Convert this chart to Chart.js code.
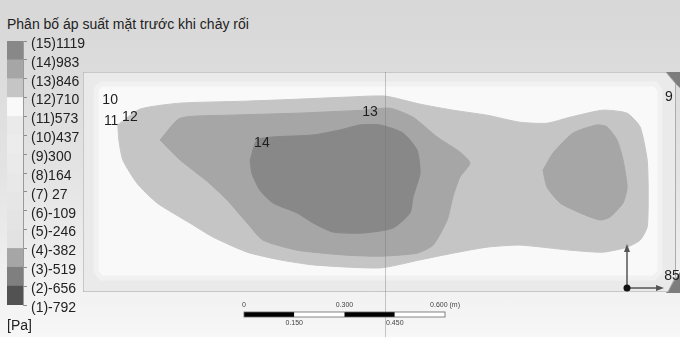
<!DOCTYPE html>
<html>
<head>
<meta charset="utf-8">
<script src="https://cdn.jsdelivr.net/npm/chart.js@4.4.1/dist/chart.umd.min.js"></script>
<style>
  html, body { margin: 0; padding: 0; }
  body {
    width: 680px; height: 337px; overflow: hidden; position: relative;
    background: linear-gradient(to bottom, #d7d7d7 0%, #e3e3e3 50%, #f7f7f7 100%);
    font-family: "Liberation Sans", Arial, sans-serif;
  }
  #title { position: absolute; left: 7px; top: 16px; font-size: 14px; color: #222; white-space: nowrap; }
  #unit  { position: absolute; left: 7px; top: 317px; font-size: 14px; color: #222; }
  #field, #bar { position: absolute; left: 0; top: 0; }
</style>
</head>
<body>
<div id="title">Phân bố áp suất mặt trước khi chảy rối</div>
<canvas id="field" width="680" height="337"></canvas>
<canvas id="bar" width="110" height="337"></canvas>
<div id="unit">[Pa]</div>

<script>
// Pressure levels of the contour legend (Pa), level 1 .. level 15
const levelValues = [-792, -656, -519, -382, -246, -109, 27, 164, 300, 437, 573, 710, 846, 983, 1119];
// Grey shade of each band between consecutive levels (band n lies between level n and n+1)
const bandColors = ['#525252', '#7f7f7f', '#a6a6a6', '#e2e2e2', '#e4e4e4', '#e6e6e6', '#e8e8e8',
                    '#eaeaea', '#ececec', '#eaeaea', '#f9f9f9', '#c5c5c5', '#a6a6a6', '#888888'];
const tickLabels = levelValues.map((v, i) => `(${i + 1})${String(v).padStart(3, ' ')}`);

// Plate size (m)
const plateLength = 1.770;
const plateHeight = 0.657;

// Contour zones, [x, y] in metres from the lower-left corner of the plate
const plateOutline = [[0, 0], [0, 0.657], [1.740, 0.657], [1.770, 0.621], [1.770, 0.048], [1.746, 0]];
const level11Zone = [[0.051, 0.621], [1.707, 0.621], [1.722, 0.603], [1.722, 0.060], [1.704, 0.042],
                     [0.054, 0.042], [0.039, 0.060], [0.039, 0.603]];
const level12Zone = [[0.104, 0.499], [0.170, 0.546], [0.290, 0.564], [0.490, 0.570], [0.648, 0.576],
                     [0.788, 0.582], [0.901, 0.585], [1.006, 0.561], [1.104, 0.543], [1.206, 0.528],
                     [1.304, 0.507], [1.385, 0.504], [1.454, 0.522], [1.552, 0.543], [1.624, 0.534],
                     [1.663, 0.493], [1.684, 0.394], [1.687, 0.296], [1.684, 0.194], [1.663, 0.155],
                     [1.624, 0.134], [1.552, 0.119], [1.454, 0.125], [1.304, 0.140], [1.206, 0.134],
                     [1.104, 0.116], [1.006, 0.096], [0.887, 0.072], [0.687, 0.081], [0.588, 0.096],
                     [0.490, 0.119], [0.388, 0.164], [0.319, 0.206], [0.221, 0.266], [0.161, 0.325],
                     [0.119, 0.394], [0.107, 0.454]];
const level13Zone = [[0.230, 0.454], [0.290, 0.519], [0.439, 0.528], [0.639, 0.534], [0.836, 0.543],
                     [0.916, 0.549], [0.985, 0.522], [1.057, 0.463], [1.125, 0.418], [1.155, 0.385],
                     [1.125, 0.343], [1.104, 0.284], [1.087, 0.215], [1.045, 0.140], [0.997, 0.116],
                     [0.887, 0.107], [0.788, 0.110], [0.639, 0.125], [0.537, 0.155], [0.490, 0.206],
                     [0.430, 0.275], [0.370, 0.331], [0.290, 0.394]];
const level13ZoneEast = [[1.373, 0.364], [1.403, 0.415], [1.463, 0.475], [1.534, 0.499], [1.564, 0.493],
                         [1.594, 0.454], [1.612, 0.394], [1.624, 0.313], [1.612, 0.266], [1.573, 0.224],
                         [1.543, 0.215], [1.484, 0.236], [1.424, 0.266], [1.385, 0.313]];
const level14Zone = [[0.499, 0.394], [0.519, 0.454], [0.567, 0.463], [0.687, 0.469], [0.767, 0.484],
                     [0.827, 0.499], [0.887, 0.499], [0.955, 0.475], [0.997, 0.424], [1.006, 0.355],
                     [0.985, 0.284], [0.976, 0.236], [0.925, 0.191], [0.836, 0.176], [0.746, 0.179],
                     [0.687, 0.206], [0.639, 0.236], [0.567, 0.266], [0.528, 0.304], [0.504, 0.355]];

// Contour line labels (level number) and their positions (m)
const contourLabelText = ['10', '11', '12', '13', '14', '9', '85'];
const contourLabelX = [0.081, 0.084, 0.140, 0.857, 0.534, 1.749, 1.758];
const contourLabelY = [0.573, 0.510, 0.522, 0.537, 0.445, 0.582, 0.047];

// Length scale bar ticks (m)
const scaleBarTicks = [0, 0.150, 0.300, 0.450, 0.600];
const scaleBarLabels = ['0', '0.150', '0.300', '0.450', '0.600 (m)'];
// Vertical reference line position (m)
const referenceLineX = 0.900;

const FONT = '"Liberation Sans", Arial, sans-serif';

function zone(pairs, fillColor, lineColor, lineWidth, tension, order) {
  const pts = pairs.map(([x, y]) => ({ x, y }));
  pts.push({ x: pairs[0][0], y: pairs[0][1] });
  return {
    data: pts, showLine: true, fill: 'shape', tension, order,
    backgroundColor: fillColor, borderColor: lineColor, borderWidth: lineWidth,
    pointRadius: 0, pointHoverRadius: 0
  };
}

// Darker corner pieces of the neighbouring walls at the right end of the plate
const cornerPieces = {
  id: 'cornerPieces',
  beforeDatasetsDraw(chart) {
    const { ctx, chartArea: a, width } = chart;
    ctx.save();
    ctx.fillStyle = '#7d7d7d';
    ctx.beginPath();
    ctx.moveTo(a.right - 12, a.top);
    ctx.lineTo(width, a.top);
    ctx.lineTo(width, a.top + 16);
    ctx.closePath();
    ctx.fill();
    ctx.beginPath();
    ctx.moveTo(a.right - 10, a.bottom + 1);
    ctx.lineTo(width, a.bottom + 1);
    ctx.lineTo(width, a.bottom - 20);
    ctx.closePath();
    ctx.fill();
    ctx.restore();
  }
};

// Labels, reference line, axis triad and length scale
const overlay = {
  id: 'overlay',
  afterDatasetsDraw(chart) {
    const { ctx, chartArea: a, scales: { x, y }, height } = chart;
    ctx.save();

    const lx = Math.round(x.getPixelForValue(referenceLineX)) + 0.5;
    ctx.strokeStyle = 'rgba(120,120,120,0.4)';
    ctx.lineWidth = 1;
    ctx.beginPath();
    ctx.moveTo(lx, a.top);
    ctx.lineTo(lx, height);
    ctx.stroke();

    ctx.fillStyle = '#1e1e1e';
    ctx.font = `14px ${FONT}`;
    ctx.textAlign = 'center';
    ctx.textBaseline = 'middle';
    contourLabelText.forEach((t, i) => {
      ctx.fillText(t, x.getPixelForValue(contourLabelX[i]), y.getPixelForValue(contourLabelY[i]));
    });

    // axis triad
    const ox = a.right - 49, oy = a.bottom - 4;
    ctx.strokeStyle = '#555';
    ctx.fillStyle = '#555';
    ctx.lineWidth = 1.5;
    ctx.beginPath();
    ctx.moveTo(ox, oy); ctx.lineTo(ox, oy - 40);
    ctx.moveTo(ox, oy); ctx.lineTo(ox + 33, oy);
    ctx.stroke();
    ctx.beginPath();
    ctx.moveTo(ox, oy - 44); ctx.lineTo(ox - 3, oy - 36); ctx.lineTo(ox + 3, oy - 36); ctx.closePath();
    ctx.moveTo(ox + 37, oy); ctx.lineTo(ox + 29, oy - 3); ctx.lineTo(ox + 29, oy + 3); ctx.closePath();
    ctx.fill();
    ctx.fillStyle = '#111';
    ctx.beginPath();
    ctx.arc(ox, oy, 3.5, 0, Math.PI * 2);
    ctx.fill();

    // length scale
    const x0 = a.left + 161;
    const p = v => x0 + (x.getPixelForValue(v) - x.getPixelForValue(0));
    const top = a.bottom + 20, h = 5;
    for (let i = 0; i < scaleBarTicks.length - 1; i++) {
      const xa = p(scaleBarTicks[i]), xb = p(scaleBarTicks[i + 1]);
      ctx.fillStyle = i % 2 === 0 ? '#000' : '#fff';
      ctx.fillRect(xa, top, xb - xa, h);
    }
    ctx.strokeStyle = '#666';
    ctx.lineWidth = 0.8;
    ctx.strokeRect(p(0), top, p(scaleBarTicks[scaleBarTicks.length - 1]) - p(0), h);
    ctx.fillStyle = '#444';
    ctx.font = `7px ${FONT}`;
    scaleBarTicks.forEach((v, i) => {
      ctx.fillText(scaleBarLabels[i], p(v), i % 2 === 0 ? top - 7 : top + 11);
    });
    ctx.restore();
  }
};

new Chart(document.getElementById('field'), {
  type: 'scatter',
  data: {
    datasets: [
      zone(plateOutline, bandColors[9], '#a4a4a4', 1, 0, 6),
      zone(level11Zone, bandColors[10], '#f1f1f1', 5, 0, 5),
      zone(level12Zone, bandColors[11], bandColors[11], 1, 0.2, 4),
      zone(level13Zone, bandColors[12], bandColors[12], 1, 0.2, 3),
      zone(level13ZoneEast, bandColors[12], bandColors[12], 1, 0.2, 3),
      zone(level14Zone, bandColors[13], bandColors[13], 1, 0.2, 2)
    ]
  },
  options: {
    responsive: false, animation: false, events: [],
    layout: { padding: { left: 83, top: 72, right: 4, bottom: 45 } },
    scales: {
      x: { type: 'linear', min: 0, max: plateLength, display: false },
      y: { type: 'linear', min: 0, max: plateHeight, display: false }
    },
    plugins: { legend: { display: false }, tooltip: { enabled: false } }
  },
  plugins: [cornerPieces, overlay]
});

// Colour legend: one floating bar per band between two levels
new Chart(document.getElementById('bar'), {
  type: 'bar',
  data: {
    labels: [''],
    datasets: bandColors.map((c, i) => ({
      data: [[i + 1, i + 2]], backgroundColor: c, borderWidth: 0,
      grouped: false, barPercentage: 1, categoryPercentage: 1
    }))
  },
  options: {
    responsive: false, animation: false, events: [],
    layout: { padding: { left: 7, top: 41, right: 0, bottom: 32 } },
    plugins: { legend: { display: false }, tooltip: { enabled: false } },
    scales: {
      x: { display: false },
      y: {
        position: 'right', min: 1, max: 15,
        afterFit(s) { s.width = 87; },
        ticks: {
          stepSize: 1, autoSkip: false, labelOffset: 3, padding: 4, color: '#222',
          font: { family: FONT, size: 14 },
          callback: v => tickLabels[Math.round(v) - 1]
        },
        grid: { drawOnChartArea: false, drawTicks: true, tickLength: 4, color: '#8c8c8c' },
        border: { display: true, color: '#9a9a9a' }
      }
    }
  }
});
</script>
</body>
</html>
